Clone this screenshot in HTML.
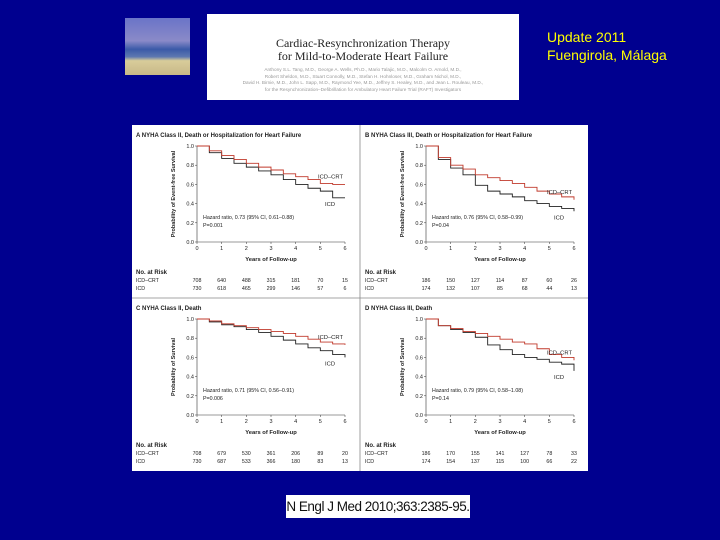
<!DOCTYPE html>
<html><head><meta charset="utf-8"><style>
body{margin:0;background:#00008f;width:720px;height:540px;overflow:hidden;font-family:"Liberation Sans",sans-serif;}
.abs{position:absolute}
</style></head><body>
<div class="abs" style="left:125px;top:18px;width:65px;height:57px;background:linear-gradient(#6a74c8 0%,#8a8ac8 40%,#3a5aa8 55%,#5d78b0 68%,#d8cc9a 75%,#c8b888 100%)"></div>
<div class="abs" style="left:207px;top:14px;width:312px;height:86px;background:#fff;text-align:center;">
 <div style="font-family:'Liberation Serif',serif;font-size:12px;line-height:13px;margin-top:23px;color:#222">Cardiac-Resynchronization Therapy<br>for Mild-to-Moderate Heart Failure</div>
 <div style="font-size:4.7px;line-height:6.5px;color:#999;margin-top:4px">Anthony S.L. Tang, M.D., George A. Wells, Ph.D., Mario Talajic, M.D., Malcolm O. Arnold, M.D.,<br>Robert Sheldon, M.D., Stuart Connolly, M.D., Stefan H. Hohnloser, M.D., Graham Nichol, M.D.,<br>David H. Birnie, M.D., John L. Sapp, M.D., Raymond Yee, M.D., Jeffrey S. Healey, M.D., and Jean L. Rouleau, M.D.,<br>for the Resynchronization–Defibrillation for Ambulatory Heart Failure Trial (RAFT) Investigators</div>
</div>
<div class="abs" style="left:547px;top:28px;color:#ffff00;font-size:14px;line-height:18px">Update 2011<br>Fuengirola, Málaga</div>
<div class="abs" style="left:286px;top:495px;width:184px;height:23px;background:#fff;font-size:13.5px;line-height:23px;text-align:center;color:#111;letter-spacing:-0.5px;white-space:nowrap;overflow:hidden">N Engl J Med 2010;363:2385-95.</div>
<svg class="abs" id="fig" style="left:132px;top:125px" width="456" height="346" viewBox="132 125 456 346" xmlns="http://www.w3.org/2000/svg" font-family="Liberation Sans, sans-serif"></svg>
<script>
const years=[0,0.5,1,1.5,2,2.5,3,3.5,4,4.5,5,5.5,6];
const tickX=["0","1","2","3","4","5","6"];
const tickY=["0.0","0.2","0.4","0.6","0.8","1.0"];
const titles=["A  NYHA Class II, Death or Hospitalization for Heart Failure","B  NYHA Class III, Death or Hospitalization for Heart Failure","C  NYHA Class II, Death","D  NYHA Class III, Death"];
const yTitles=["Probability of Event-free Survival","Probability of Event-free Survival","Probability of Survival","Probability of Survival"];
const hazards=["Hazard ratio, 0.73 (95% CI, 0.61–0.88)","Hazard ratio, 0.76 (95% CI, 0.58–0.99)","Hazard ratio, 0.71 (95% CI, 0.56–0.91)","Hazard ratio, 0.79 (95% CI, 0.58–1.08)"];
const pvals=["P=0.001","P=0.04","P=0.006","P=0.14"];
const crtA=[1,.95,.90,.86,.82,.78,.75,.71,.68,.65,.61,.60,.60];
const icdA=[1,.93,.87,.82,.78,.74,.70,.65,.60,.56,.53,.46,.46];
const crtB=[1,.88,.80,.76,.70,.67,.64,.61,.57,.53,.50,.47,.44];
const icdB=[1,.86,.77,.70,.59,.53,.50,.47,.43,.40,.37,.35,.32];
const crtC=[1,.98,.95,.93,.91,.89,.87,.85,.82,.79,.76,.74,.73];
const icdC=[1,.97,.94,.92,.89,.86,.82,.78,.74,.70,.67,.63,.60];
const crtD=[1,.93,.90,.87,.85,.82,.79,.76,.74,.69,.63,.60,.57];
const icdD=[1,.93,.89,.86,.81,.73,.68,.63,.60,.58,.55,.53,.46];
const riskCrtA=[708,640,488,315,181,70,15], riskIcdA=[730,618,465,299,146,57,6];
const riskCrtB=[186,150,127,114,87,60,26], riskIcdB=[174,132,107,85,68,44,13];
const riskCrtC=[708,679,530,361,206,89,20], riskIcdC=[730,687,533,366,180,83,13];
const riskCrtD=[186,170,155,141,127,78,33], riskIcdD=[174,154,137,115,100,66,22];
const crt=[crtA,crtB,crtC,crtD], icd=[icdA,icdB,icdC,icdD];
const rc=[riskCrtA,riskCrtB,riskCrtC,riskCrtD], ri=[riskIcdA,riskIcdB,riskIcdC,riskIcdD];
const svg=document.getElementById('fig');const NS='http://www.w3.org/2000/svg';
function el(t,a,p){const e=document.createElementNS(NS,t);for(const k in a)e.setAttribute(k,a[k]);(p||svg).appendChild(e);return e;}
function txt(s,x,y,sz,anchor,p,w){const e=el('text',{x:x,y:y,'font-size':sz,'text-anchor':anchor||'start',fill:'#222','font-weight':w||'normal'},p);e.textContent=s;return e;}
el('rect',{x:132,y:125,width:456,height:346,fill:'#fff'});
el('line',{x1:360,y1:125,x2:360,y2:471,stroke:'#888','stroke-width':0.8});
el('line',{x1:132,y1:298,x2:588,y2:298,stroke:'#888','stroke-width':0.8});
for(let i=0;i<4;i++){
 const ox=(i%2)?229:0, oy=(i>1)?173:0;
 const g=el('g',{});
 
 
 const X0=197+ox, X1=345+ox, Y0=242+oy, Y1=146+oy;
 const sx=v=>X0+(X1-X0)*v/6, sy=v=>Y0-(Y0-Y1)*v;
 txt(titles[i],136+ox,137+oy,6,'start',g,'bold');
 el('line',{x1:X0,y1:Y1,x2:X0,y2:Y0,stroke:'#333','stroke-width':0.6},g);
 el('line',{x1:X0,y1:Y0,x2:X1,y2:Y0,stroke:'#333','stroke-width':0.6},g);
 tickX.forEach((t,k)=>{el('line',{x1:sx(k),y1:Y0,x2:sx(k),y2:Y0+2,stroke:'#333','stroke-width':0.5},g);txt(t,sx(k),Y0+8,5.5,'middle',g);});
 tickY.forEach((t,k)=>{el('line',{x1:X0-2,y1:sy(k*0.2),x2:X0,y2:sy(k*0.2),stroke:'#333','stroke-width':0.5},g);txt(t,X0-3,sy(k*0.2)+2,5.5,'end',g);});
 const yt=txt(yTitles[i],0,0,5.5,'middle',g,'bold');yt.setAttribute('transform','translate('+(X0-22)+','+((Y0+Y1)/2)+') rotate(-90)');
 txt('Years of Follow-up',(X0+X1)/2,Y0+19,5.8,'middle',g,'bold');
 [[icd[i],'#222','ICD-curve'],[crt[i],'#c0392b','ICD-CRT-curve']].forEach(([s,c,n])=>{
  let d='M'+sx(years[0])+','+sy(s[0]);
  for(let k=1;k<years.length;k++){d+=' H'+sx(years[k])+' V'+sy(s[k]);}
  const p=el('path',{d:d,fill:'none',stroke:c,'stroke-width':0.9},g);
  
  
 });
 const lc=crt[i][12], li=icd[i][12];
 txt('ICD–CRT',X1-2,sy(lc)-6,5.8,'end',g);
 txt('ICD',X1-10,sy(li)+(li<lc-0.08?8:10),5.8,'end',g);
 txt(hazards[i],X0+6,Y0-23,5.3,'start',g);
 txt(pvals[i],X0+6,Y0-15,5.3,'start',g);
 txt('No. at Risk',136+ox,Y0+32,6,'start',g,'bold');
 txt('ICD–CRT',136+ox,Y0+40,5.3,'start',g);
 txt('ICD',136+ox,Y0+48,5.3,'start',g);
 rc[i].forEach((v,k)=>txt(String(v),sx(k),Y0+40,5.3,'middle',g));
 ri[i].forEach((v,k)=>txt(String(v),sx(k),Y0+48,5.3,'middle',g));
}
</script>
</body></html>
